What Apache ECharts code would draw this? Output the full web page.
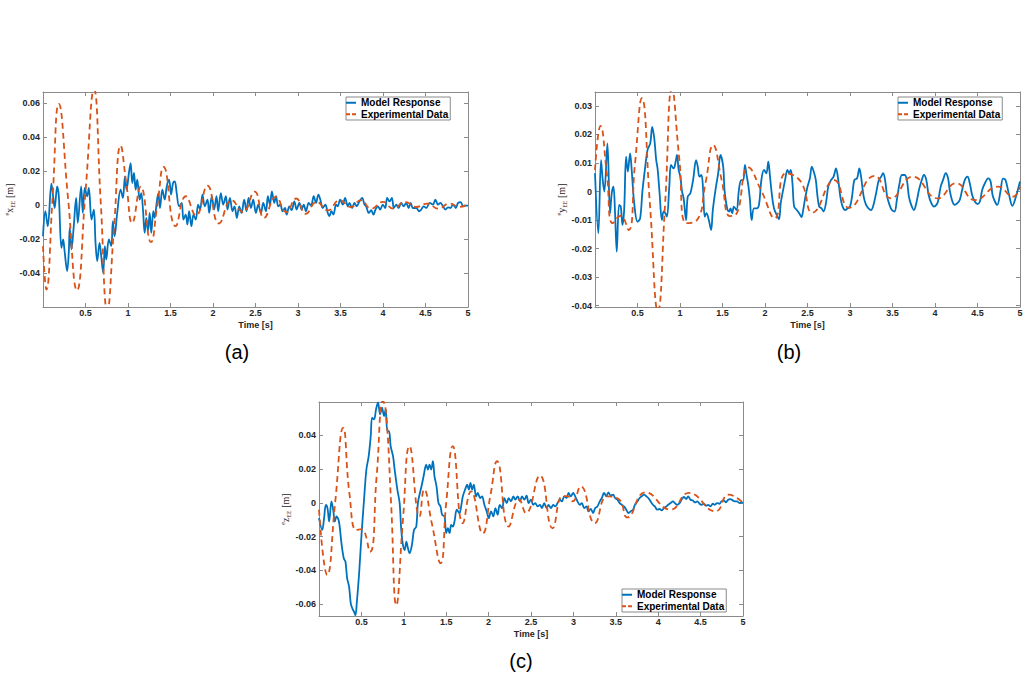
<!DOCTYPE html>
<html><head><meta charset="utf-8">
<script src="https://cdn.jsdelivr.net/npm/echarts@6/dist/echarts.min.js"></script>
<style>html,body{margin:0;padding:0;background:#fff}#c{width:1028px;height:686px}</style>
</head><body><div id="c"></div>
<script>
const seriesNames = ['Model Response', 'Experimental Data'];
const panelLabels = ['(a)', '(b)', '(c)'];
const timeTicks = [0.5, 1, 1.5, 2, 2.5, 3, 3.5, 4, 4.5, 5];
const yTicksA = [-0.04, -0.02, 0, 0.02, 0.04, 0.06];
const yTicksB = [-0.04, -0.03, -0.02, -0.01, 0, 0.01, 0.02, 0.03];
const yTicksC = [-0.06, -0.04, -0.02, 0, 0.02, 0.04];
const yRangeA = [-0.0598, 0.0666];
const yRangeB = [-0.0405, 0.0349];
const yRangeC = [-0.067, 0.0598];

// (a) x_EE  [time s, displacement m]
const modelA = [[0,-0.0182],[0.028,-0.0035],[0.056,-0.0123],[0.099,0.0127],[0.119,0.0053],[0.138,-0.0016],[0.166,0.0111],[0.186,0.0053],[0.217,-0.025],[0.237,-0.0201],[0.252,-0.026],[0.284,-0.0387],[0.303,-0.0279],[0.315,-0.0133],[0.335,-0.026],[0.362,-0.0123],[0.39,0.0043],[0.409,-0.0104],[0.449,0.0111],[0.468,-0.0045],[0.492,0.0102],[0.52,0.0053],[0.539,0.0102],[0.571,-0.0084],[0.598,-0.0025],[0.618,-0.0221],[0.638,-0.0328],[0.665,-0.0221],[0.685,-0.0299],[0.708,-0.0397],[0.728,-0.024],[0.744,-0.0319],[0.775,-0.0201],[0.803,-0.024],[0.822,-0.0094],[0.842,-0.0182],[0.873,-0.0045],[0.913,0.0092],[0.94,0.0043],[0.964,0.017],[0.983,0.0092],[1.011,0.019],[1.031,0.0248],[1.05,0.0131],[1.07,0.019],[1.09,0.0092],[1.109,0.015],[1.137,0.0033],[1.156,0.0072],[1.176,-0.0025],[1.196,-0.0162],[1.215,-0.0074],[1.235,-0.0152],[1.255,-0.0045],[1.274,-0.0162],[1.298,-0.0035],[1.314,-0.0074],[1.337,0.0014],[1.357,0.0072],[1.376,-0.0016],[1.404,0.0092],[1.432,0.0033],[1.456,0.0111],[1.483,0.015],[1.507,0.0063],[1.53,0.0131],[1.55,0.0141],[1.573,0.0072],[1.601,-0.0006],[1.632,0.0014],[1.652,-0.0084],[1.679,-0.0055],[1.699,-0.0113],[1.719,-0.0035],[1.746,-0.0123],[1.77,-0.0055],[1.797,-0.0084],[1.825,0.0004],[1.848,-0.0025],[1.876,0.0063],[1.903,-0.0006],[1.935,0.0033],[1.955,-0.0045],[1.986,0.0053],[2.013,-0.0025],[2.041,0.0053],[2.061,-0.0035],[2.092,0.0072],[2.12,0.0004],[2.151,0.0053],[2.171,-0.0025],[2.199,0.0043],[2.23,-0.0035],[2.253,-0.0006],[2.281,-0.0074],[2.308,-0.0006],[2.336,-0.0045],[2.367,0.0033],[2.395,-0.0035],[2.418,0.0043],[2.446,-0.0016],[2.473,0.0033],[2.505,-0.0045],[2.532,0.0004],[2.564,-0.0045],[2.591,0.0014],[2.623,-0.0035],[2.646,0.0053],[2.67,0.0004],[2.693,0.0082],[2.721,0.0014],[2.741,0.0053],[2.768,-0.0006],[2.792,0.0004],[2.819,-0.0035],[2.847,-0.0016],[2.866,-0.0055],[2.898,-0.0006],[2.925,-0.0029],[2.957,0.0023],[2.984,-0.0025],[3.016,0.0014],[3.043,-0.0025],[3.067,0.0004],[3.094,-0.0035],[3.126,0.0014],[3.153,-0.0002],[3.185,0.0053],[3.212,0.0014],[3.24,0.0063],[3.263,0.0033],[3.291,-0.0016],[3.322,0.0004],[3.35,-0.0045],[3.369,-0.0064],[3.393,-0.0035],[3.417,-0.0055],[3.448,0.0004],[3.468,-0.0006],[3.495,0.0033],[3.527,0.0004],[3.554,0.0043],[3.586,-0.0006],[3.605,0.0014],[3.637,-0.0016],[3.664,0.0014],[3.692,-0.0006],[3.723,0.0023],[3.755,0.0043],[3.782,0.0004],[3.802,-0.0006],[3.833,-0.0045],[3.861,-0.0029],[3.888,-0.0055],[3.912,-0.0025],[3.939,-0.0006],[3.967,-0.0025],[3.998,0.0004],[4.026,-0.0016],[4.049,0.0043],[4.077,0.0023],[4.104,0.0043],[4.128,-0.0016],[4.156,0.0004],[4.183,-0.0016],[4.215,0.0014],[4.242,-0.0006],[4.274,0.0014],[4.301,-0.0016],[4.325,0.0014],[4.352,-0.0016],[4.392,-0.0016],[4.423,-0.0035],[4.45,-0.0025],[4.478,-0.0006],[4.509,-0.0016],[4.549,0.0014],[4.588,0.0004],[4.616,0.0033],[4.647,0.0004],[4.675,0.0014],[4.706,-0.0006],[4.734,-0.0025],[4.765,-0.0012],[4.793,-0.0016],[4.824,0.0004],[4.856,-0.0016],[4.883,0.0014],[4.915,0.0018],[4.942,-0.0006],[4.973,-0.0002],[5,-0.0002]];
const expA = [[0,-0.024],[0.04,-0.0495],[0.113,0.005],[0.186,0.0596],[0.293,0.005],[0.4,-0.05],[0.5,0.008],[0.6,0.068],[0.678,0.003],[0.757,-0.062],[0.835,-0.0135],[0.914,0.035],[0.982,0.012],[1.05,-0.0104],[1.15,0.011],[1.27,-0.0217],[1.345,0],[1.42,0.0225],[1.56,-0.0123],[1.68,0.0053],[1.8,-0.006],[1.935,0.0115],[2.07,-0.0107],[2.22,0.003],[2.35,-0.004],[2.49,0.008],[2.6,-0.0074],[2.74,0.005],[2.86,-0.004],[2.98,0.004],[3.09,-0.005],[3.22,0.002],[3.35,-0.003],[3.49,0.003],[3.62,-0.001],[3.74,0.003],[3.86,-0.002],[4,0.002],[4.12,-0.002],[4.26,0.002],[4.39,-0.001],[4.52,0.001],[4.65,-0.002],[4.78,0.001],[4.9,-0.001],[5,0.001]];

// (b) y_EE
const modelB = [[0,0.0064],[0.039,-0.0147],[0.071,0.011],[0.091,0.004],[0.11,0],[0.146,0.0169],[0.177,-0.0076],[0.197,-0.0006],[0.217,0.0017],[0.236,-0.0076],[0.256,-0.0211],[0.283,-0.0047],[0.303,-0.0053],[0.323,-0.0117],[0.343,-0.0065],[0.366,0.0122],[0.386,0.007],[0.413,0.0134],[0.433,0.007],[0.461,-0.0041],[0.5,-0.0106],[0.531,-0.0094],[0.559,0.0005],[0.591,0.0087],[0.618,0.0146],[0.65,0.0169],[0.673,0.0227],[0.697,0.0187],[0.72,0.011],[0.736,0.0081],[0.76,-0.0006],[0.787,-0.01],[0.807,-0.007],[0.827,-0.0076],[0.846,-0.0088],[0.874,0.0017],[0.894,0.0093],[0.925,0.0081],[0.949,0.0105],[0.965,0.0128],[0.984,0.0076],[1.004,0.0052],[1.024,0],[1.043,-0.0024],[1.071,-0.01],[1.091,-0.0018],[1.122,-0.0006],[1.154,0.004],[1.189,0.011],[1.209,0.0087],[1.228,0.0052],[1.252,0.0058],[1.272,0.0005],[1.291,-0.0088],[1.311,-0.0076],[1.339,-0.01],[1.366,-0.0135],[1.386,-0.0065],[1.417,0.0005],[1.449,0.0064],[1.476,0.0128],[1.508,0.0087],[1.524,0.0005],[1.555,-0.0059],[1.579,-0.007],[1.594,-0.0059],[1.614,-0.0076],[1.634,-0.0053],[1.665,-0.0065],[1.693,0.0005],[1.72,0.004],[1.744,0.004],[1.764,0.0093],[1.783,0.0058],[1.803,0.0023],[1.823,-0.003],[1.843,-0.01],[1.87,-0.0059],[1.902,-0.0059],[1.929,-0.0047],[1.957,0.004],[1.988,0.0076],[2.016,0.0064],[2.039,0.0105],[2.059,0.0052],[2.079,-0.0006],[2.106,-0.0059],[2.138,-0.0082],[2.165,-0.0097],[2.185,-0.0041],[2.213,0.0005],[2.236,0.004],[2.264,0.0076],[2.283,0.0064],[2.303,0.0076],[2.323,0.0029],[2.343,-0.0053],[2.374,-0.0065],[2.402,-0.0076],[2.429,-0.009],[2.449,-0.0065],[2.472,-0.0024],[2.5,0.0017],[2.528,0.0046],[2.551,0.0087],[2.579,0.0064],[2.598,0.004],[2.618,-0.0018],[2.638,-0.0053],[2.665,-0.0059],[2.689,-0.007],[2.717,-0.0041],[2.744,0.0017],[2.776,0.004],[2.807,0.0052],[2.835,0.0081],[2.862,0.004],[2.886,-0.0018],[2.913,-0.0053],[2.945,-0.0065],[2.972,-0.0059],[3,-0.0053],[3.024,-0.0018],[3.051,0.004],[3.083,0.0046],[3.11,0.0081],[3.13,0.0052],[3.161,-0.0018],[3.189,-0.0047],[3.217,-0.0059],[3.248,-0.0065],[3.276,-0.0047],[3.307,-0.0006],[3.339,0.004],[3.366,0.0052],[3.39,0.0064],[3.413,0.004],[3.437,-0.0018],[3.465,-0.0047],[3.492,-0.0065],[3.524,-0.007],[3.551,-0.003],[3.583,0.0029],[3.61,0.0058],[3.642,0.0058],[3.669,0.004],[3.693,-0.0018],[3.72,-0.0047],[3.752,-0.0065],[3.78,-0.0041],[3.811,0.0005],[3.839,0.0035],[3.87,0.0058],[3.898,0.004],[3.925,-0.0012],[3.957,-0.0041],[3.988,-0.0053],[4.016,-0.0047],[4.035,-0.0035],[4.067,0.0017],[4.094,0.004],[4.126,0.0064],[4.154,0.0046],[4.173,0.0005],[4.205,-0.0035],[4.232,-0.0047],[4.264,-0.0041],[4.291,-0.003],[4.319,0.0005],[4.35,0.004],[4.382,0.0052],[4.409,0.0029],[4.437,-0.0012],[4.469,-0.0035],[4.5,-0.0044],[4.528,-0.0035],[4.555,0.0005],[4.587,0.0029],[4.626,0.0046],[4.654,0.0035],[4.677,-0.0012],[4.705,-0.0035],[4.732,-0.0047],[4.77,0],[4.8,0.0045],[4.83,0.004],[4.87,-0.001],[4.91,-0.005],[4.95,-0.002],[5,0.0035]];
const expB = [[0,0.0075],[0.065,0.023],[0.14,0.006],[0.209,-0.0111],[0.3,-0.0085],[0.394,-0.0135],[0.47,0.0096],[0.551,0.0327],[0.645,-0.004],[0.74,-0.042],[0.825,-0.004],[0.906,0.036],[0.99,0.012],[1.075,-0.0111],[1.2,-0.01],[1.3,0.003],[1.39,0.0163],[1.49,0.004],[1.587,-0.0086],[1.654,-0.0082],[1.803,0.0085],[1.96,0],[2.114,-0.0094],[2.244,0.0064],[2.42,0.0035],[2.56,-0.0074],[2.815,0.004],[2.99,-0.0057],[3.29,0.0055],[3.48,-0.0024],[3.74,0.0052],[4.03,-0.0024],[4.25,0.0029],[4.47,-0.003],[4.74,0.0017],[4.92,-0.0018],[5,0.0017]];

// (c) z_EE
const modelC = [[0,-0.009],[0.038,-0.016],[0.06,-0.009],[0.081,-0.0011],[0.1,-0.0031],[0.12,-0.011],[0.147,0.0009],[0.167,-0.004],[0.187,-0.011],[0.206,-0.008],[0.235,-0.011],[0.265,-0.0239],[0.292,-0.0328],[0.312,-0.0348],[0.332,-0.0447],[0.355,-0.0497],[0.375,-0.0596],[0.394,-0.0626],[0.414,-0.0646],[0.43,-0.0666],[0.445,-0.0596],[0.473,-0.0418],[0.5,-0.0199],[0.531,0.0019],[0.559,0.0198],[0.586,0.0277],[0.61,0.0396],[0.626,0.0505],[0.649,0.0495],[0.673,0.0555],[0.696,0.0595],[0.72,0.0525],[0.743,0.0565],[0.767,0.0515],[0.786,0.0555],[0.806,0.0426],[0.825,0.0426],[0.845,0.0337],[0.873,0.0277],[0.892,0.0198],[0.924,0.0079],[0.951,-0.0001],[0.97,-0.016],[0.99,-0.0249],[1.01,-0.0279],[1.03,-0.0229],[1.049,-0.0269],[1.068,-0.0298],[1.096,-0.0249],[1.12,-0.016],[1.147,-0.014],[1.166,-0.0001],[1.19,0.0059],[1.213,0.0108],[1.237,0.0167],[1.264,0.0227],[1.284,0.0198],[1.303,0.0227],[1.323,0.0198],[1.343,0.0247],[1.362,0.0158],[1.386,0.0098],[1.409,-0.0001],[1.433,-0.0021],[1.452,-0.007],[1.48,-0.008],[1.5,-0.0179],[1.52,-0.015],[1.539,-0.0179],[1.559,-0.013],[1.578,-0.014],[1.598,-0.011],[1.625,-0.004],[1.656,-0.006],[1.676,-0.0021],[1.696,0.0039],[1.723,0.0079],[1.747,0.0108],[1.767,0.0079],[1.786,0.0118],[1.806,0.0079],[1.825,0.0108],[1.853,0.0039],[1.872,0.0059],[1.9,0.0029],[1.923,0.0039],[1.95,-0.0011],[1.978,-0.005],[2.002,-0.009],[2.029,-0.005],[2.056,-0.008],[2.08,-0.0031],[2.107,-0.007],[2.131,-0.0011],[2.159,-0.0031],[2.186,0.0029],[2.213,-0.0001],[2.237,0.0029],[2.264,0.0009],[2.292,0.0039],[2.315,0.0019],[2.343,0.0039],[2.37,0.0009],[2.394,0.0039],[2.421,0.0019],[2.448,0.0043],[2.472,-0.0001],[2.499,0.0019],[2.527,-0.0011],[2.55,-0.0001],[2.578,-0.0021],[2.605,-0.0011],[2.629,-0.0031],[2.656,-0.0001],[2.684,-0.0031],[2.707,-0.0011],[2.735,-0.0031],[2.762,-0.0011],[2.786,-0.0021],[2.813,-0.0001],[2.841,0.0019],[2.864,0.0009],[2.892,0.0039],[2.919,0.0029],[2.943,0.0059],[2.97,0.0039],[2.997,0.0059],[3.021,0.0039],[3.048,0.0009],[3.076,-0.0011],[3.099,-0.0001],[3.127,-0.0031],[3.154,-0.0021],[3.178,-0.005],[3.205,-0.0036],[3.232,-0.006],[3.256,-0.0031],[3.283,-0.0021],[3.311,0.0009],[3.335,0.0029],[3.362,0.0059],[3.389,0.0039],[3.413,0.0063],[3.44,0.0043],[3.468,0.0049],[3.491,0.0029],[3.519,0.0019],[3.546,-0.0001],[3.57,-0.0011],[3.597,-0.0021],[3.624,-0.004],[3.648,-0.006],[3.675,-0.005],[3.703,-0.004],[3.726,-0.0011],[3.754,0.0009],[3.781,0.0029],[3.805,0.0039],[3.832,0.0049],[3.86,0.0039],[3.883,0.0029],[3.911,0.0009],[3.938,-0.0011],[3.961,-0.0021],[3.989,-0.004],[4.016,-0.0036],[4.04,-0.0044],[4.067,-0.0031],[4.095,-0.0021],[4.118,-0.0011],[4.146,-0.0001],[4.173,0.0009],[4.197,-0.0001],[4.224,-0.0011],[4.252,-0.0001],[4.275,0.0019],[4.303,0.0035],[4.33,0.0023],[4.353,0.0039],[4.381,0.0019],[4.409,0.0015],[4.432,0.0003],[4.46,0.0009],[4.487,-0.0005],[4.511,-0.0011],[4.538,-0.0005],[4.565,-0.0017],[4.589,-0.0011],[4.616,-0.0021],[4.644,-0.0005],[4.667,-0.0011],[4.695,-0.0001],[4.722,-0.0005],[4.746,0.0009],[4.773,0.0015],[4.8,0.0003],[4.824,0.0019],[4.852,0.0023],[4.879,0.0015],[4.903,0.0009],[4.93,0.0009],[4.958,-0.0001],[4.981,0.0003],[5,-0.0001]];
const expC = [[0,-0.004],[0.097,-0.0427],[0.19,0],[0.285,0.0445],[0.36,0.005],[0.44,-0.016],[0.5,-0.0155],[0.6,-0.029],[0.68,0.016],[0.755,0.0605],[0.79,0.054],[0.85,0],[0.912,-0.0606],[0.99,-0.01],[1.068,0.0336],[1.186,-0.008],[1.24,0.008],[1.33,-0.012],[1.433,-0.0357],[1.5,0],[1.578,0.0336],[1.696,-0.012],[1.793,0.0069],[1.93,-0.018],[2.02,0.004],[2.1,0.0247],[2.237,-0.014],[2.36,0.002],[2.44,-0.006],[2.605,0.0162],[2.755,-0.015],[2.87,0.004],[2.93,0.004],[2.99,0.001],[3.087,0.0098],[3.252,-0.012],[3.4,0.0039],[3.54,0.002],[3.636,-0.0086],[3.85,0.0063],[4.145,-0.004],[4.362,0.0059],[4.675,-0.005],[4.832,0.0049],[5,0]];

const panels = [
  {model: modelA, exp: expA, ticks: yTicksA, range: yRangeA, sym: 'x',
   grid: {left: 43, top: 92, width: 425, height: 215}, nameGap: 24,
   legend: {left: 346, top: 97}, label: [237, 352]},
  {model: modelB, exp: expB, ticks: yTicksB, range: yRangeB, sym: 'y',
   grid: {left: 595, top: 92, width: 425, height: 215}, nameGap: 27,
   legend: {left: 898, top: 97}, label: [789, 352]},
  {model: modelC, exp: expC, ticks: yTicksC, range: yRangeC, sym: 'z',
   grid: {left: 319, top: 402, width: 424, height: 214}, nameGap: 24,
   legend: {left: 622, top: 589}, label: [521, 661]}
];

const boxColor = '#8a8a8a';
const textColor = '#262626';
const sans = 'Liberation Sans, Arial, sans-serif';
const fmt = v => String(+(+v).toFixed(3));
const blue = '#0072BD', orange = '#D95319';
const solidIcon = 'path://M0,0H10V2H0Z';
const dashIcon = 'path://M0,0H4V2H0Z M6,0H10V2H6Z';

const option = {
  animation: false,
  backgroundColor: '#ffffff',
  grid: [], xAxis: [], yAxis: [], series: [], legend: [], graphic: []
};

panels.forEach((p, i) => {
  option.grid.push(Object.assign({containLabel: false}, p.grid));
  const common = {
    type: 'value', gridIndex: i, splitLine: {show: false},
    axisLine: {show: true, onZero: false, lineStyle: {color: boxColor, width: 1}},
  };
  option.xAxis.push(Object.assign({}, common, {
    min: 0, max: 5, position: 'bottom',
    axisTick: {show: true, inside: true, length: 4, customValues: timeTicks, lineStyle: {color: boxColor}},
    axisLabel: {show: true, customValues: timeTicks, formatter: fmt, margin: 1,
      fontSize: 9, fontWeight: 'bold', color: textColor, fontFamily: sans},
    name: 'Time [s]', nameLocation: 'middle', nameGap: 13,
    nameTextStyle: {fontSize: 9, fontWeight: 'bold', color: textColor, fontFamily: sans}
  }));
  option.xAxis.push(Object.assign({}, common, {
    min: 0, max: 5, position: 'top',
    axisTick: {show: true, inside: true, length: 4, customValues: timeTicks, lineStyle: {color: boxColor}},
    axisLabel: {show: false}
  }));
  option.yAxis.push(Object.assign({}, common, {
    min: p.range[0], max: p.range[1], position: 'left',
    axisTick: {show: true, inside: true, length: 4, customValues: p.ticks, lineStyle: {color: boxColor}},
    axisLabel: {show: true, customValues: p.ticks, formatter: fmt, margin: 3,
      fontSize: 9, fontWeight: 'bold', color: textColor, fontFamily: sans},
    name: '{e|e}{x|' + p.sym + '}{s|EE} [m]', nameLocation: 'middle', nameGap: p.nameGap, nameRotate: 90,
    nameTextStyle: {fontSize: 10, color: textColor, fontFamily: 'Liberation Serif, serif',
      rich: {
        e: {fontSize: 6, color: textColor, fontFamily: 'Liberation Serif, serif', verticalAlign: 'top', lineHeight: 12},
        x: {fontSize: 10, color: textColor, fontFamily: 'Liberation Serif, serif', verticalAlign: 'middle', lineHeight: 12},
        s: {fontSize: 6, color: textColor, fontFamily: 'Liberation Serif, serif', verticalAlign: 'bottom', lineHeight: 12}
      }}
  }));
  option.yAxis.push(Object.assign({}, common, {
    min: p.range[0], max: p.range[1], position: 'right',
    axisTick: {show: true, inside: true, length: 4, customValues: p.ticks, lineStyle: {color: boxColor}},
    axisLabel: {show: false}
  }));
  option.series.push({
    type: 'line', name: seriesNames[0], xAxisIndex: 2 * i, yAxisIndex: 2 * i,
    data: p.model, symbol: 'none', showSymbol: false, smooth: 0.35, clip: true,
    lineStyle: {color: blue, width: 1.8}, itemStyle: {color: blue}
  });
  option.series.push({
    type: 'line', name: seriesNames[1], xAxisIndex: 2 * i, yAxisIndex: 2 * i,
    data: p.exp, symbol: 'none', showSymbol: false, smooth: 0.5, clip: true,
    lineStyle: {color: orange, width: 1.8, type: [6, 4]}, itemStyle: {color: orange}
  });
  option.legend.push({
    data: [{name: seriesNames[0], icon: solidIcon}, {name: seriesNames[1], icon: dashIcon}],
    orient: 'vertical', left: p.legend.left, top: p.legend.top,
    itemWidth: 10, itemHeight: 2, itemGap: 0, padding: [0, 2, 0, 0],
    borderColor: boxColor, borderWidth: 1, backgroundColor: '#ffffff', selectedMode: false,
    textStyle: {fontSize: 10, fontWeight: 'bold', color: '#000', fontFamily: sans, lineHeight: 11.5}
  });
  option.graphic.push({
    type: 'text', x: p.label[0], y: p.label[1],
    style: {text: panelLabels[i], fontSize: 20, fontFamily: sans, fill: '#000',
      textAlign: 'center', textVerticalAlign: 'middle'}
  });
});

const chart = echarts.init(document.getElementById('c'), null, {renderer: 'svg'});
chart.setOption(option);
</script>
</body></html>
